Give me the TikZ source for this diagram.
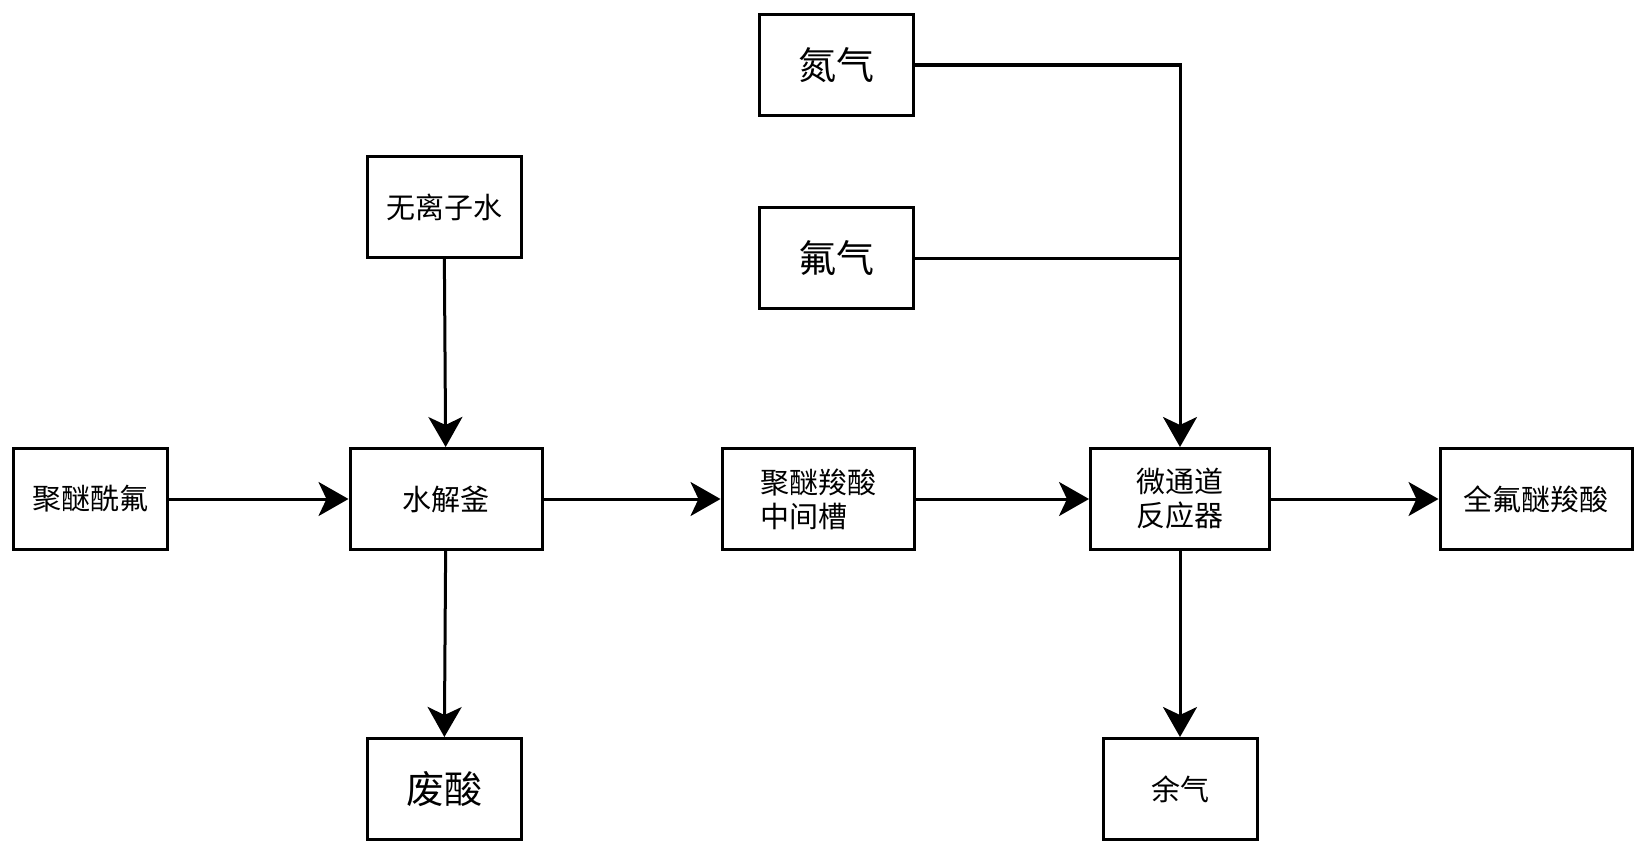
\documentclass[tikz,border=0pt]{standalone}
\usepackage{fontspec}
\newfontfamily\cjk{Noto Sans CJK SC}
\usetikzlibrary{arrows.meta}
\begin{document}
\begin{tikzpicture}[x=1pt,y=-1pt,
    box/.style={draw,line width=3pt,minimum width=154pt,minimum height=101pt,inner sep=2pt,font=\cjk\fontsize{29}{34}\selectfont,align=left},
    big/.style={font=\cjk\fontsize{38}{44}\selectfont},
    flow/.style={line width=3pt,-{Stealth[length=30pt,width=34pt,inset=8pt]}}]
    \useasboundingbox (0,0) rectangle (1645,851);
    \path (90, 499) node [box] (pf) {聚醚酰氟};
    \path (446, 499) node [box,minimum width=192pt] (hk) {水解釜};
    \path (444, 207) node [box] (wa) {无离子水};
    \path (444, 789) node [box,big] (fs) {废酸};
    \path (818, 499) node [box,minimum width=192pt] (zj) {聚醚羧酸\\中间槽};
    \path (836, 65) node [box,big] (dq) {氮气};
    \path (836, 258) node [box,big] (fq) {氟气};
    \path (1180, 499) node [box,minimum width=179pt] (wt) {微通道\\反应器};
    \path (1180, 789) node [box] (yq) {余气};
    \path (1536, 499) node [box,minimum width=192pt] (qf) {全氟醚羧酸};
    \draw [flow] (pf) -- (hk);
    \draw [flow] (wa) -- (hk);
    \draw [flow] (hk) -- (fs);
    \draw [flow] (hk) -- (zj);
    \draw [flow] (zj) -- (wt);
    \draw [flow] (wt) -- (qf);
    \draw [flow] (wt) -- (yq);
    \coordinate (jn) at (wt.north |- fq.east);
    \draw [line width=3pt] (dq.east) -| (jn);
    \draw [line width=3pt] (fq.east) -- (jn);
    \draw [flow] (jn) -- (wt);
\end{tikzpicture}
\end{document}
